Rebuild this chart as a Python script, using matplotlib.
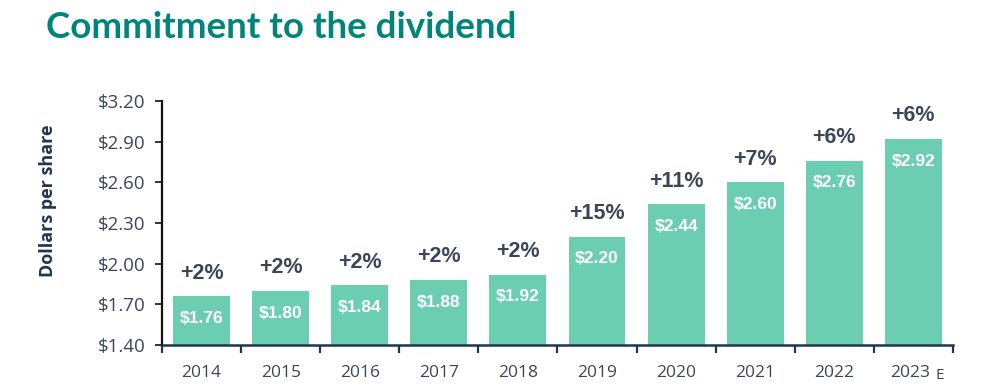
import matplotlib
matplotlib.use("Agg")
import matplotlib.pyplot as plt
import numpy as np

years = ["2014", "2015", "2016", "2017", "2018", "2019", "2020", "2021", "2022", "2023"]
dividends = [1.76, 1.80, 1.84, 1.88, 1.92, 2.20, 2.44, 2.60, 2.76, 2.92]
growth = ["+2%", "+2%", "+2%", "+2%", "+2%", "+15%", "+11%", "+7%", "+6%", "+6%"]
yticks = [1.40, 1.70, 2.00, 2.30, 2.60, 2.90, 3.20]

BAR = "#6CCEB0"
NAVY = "#1F3550"
SLATE = "#3A4658"
TEAL = "#00857A"

fig = plt.figure(figsize=(10.02, 3.92), dpi=100)
ax = fig.add_axes([0.1617, 0.1199, 0.951 - 0.1617, 0.7423 - 0.1199])

x = np.arange(len(years))
ax.bar(x, dividends, width=0.72, color=BAR, zorder=2)
ax.set_ylim(1.40, 3.20)
ax.set_xlim(-0.5, len(years) - 0.5)

for xi, v, g in zip(x, dividends, growth):
    ax.annotate(g, (xi, v), xytext=(0, 9), textcoords="offset points",
                ha="center", va="bottom", fontsize=15.5, fontweight="bold",
                color=SLATE, family="Liberation Sans")
    ax.annotate(f"${v:.2f}", (xi, v), xytext=(0, -16), textcoords="offset points",
                ha="center", va="center", fontsize=12.5, fontweight="bold",
                color="white", family="Liberation Sans")

ax.set_yticks(yticks)
ax.set_yticklabels([f"${t:.2f}" for t in yticks], fontsize=13.5, color=SLATE, family="Open Sans")
ax.set_xticks(x)
ax.set_xticklabels([""] * len(years))

for xi, yr in zip(x, years):
    dx = -2 if yr == years[-1] else 0
    ax.annotate(yr, (xi, 0), xycoords=("data", "axes fraction"), xytext=(dx, -20),
                textcoords="offset points", ha="center", va="center",
                fontsize=12.5, color=SLATE, family="Open Sans")
ax.annotate("E", (x[-1], 0), xycoords=("data", "axes fraction"), xytext=(19, -22),
            textcoords="offset points", ha="center", va="center",
            fontsize=11, color="#444444", family="Open Sans")

ax.tick_params(axis="x", length=0)
ax.set_xticks(np.arange(-0.5, len(years) - 0.4, 1.0), minor=True)
ax.tick_params(axis="x", which="minor", length=6, width=1.6, color=NAVY, direction="out")
ax.tick_params(axis="y", length=5, width=1.2, color="#111111", direction="out", pad=7)

for s in ["top", "right"]:
    ax.spines[s].set_visible(False)
ax.spines["left"].set_color("#111111")
ax.spines["left"].set_linewidth(1.6)
ax.spines["bottom"].set_color(NAVY)
ax.spines["bottom"].set_linewidth(1.8)

ax.set_ylabel("Dollars per share", fontsize=13, fontweight="bold", color=NAVY,
              family="Open Sans", va="center")
ax.yaxis.set_label_coords(-0.144, 0.59)

fig.text(46 / 1002, 1 - 27 / 392, "Commitment to the dividend", fontsize=26.5,
         fontweight="bold", color=TEAL, family="Lato", ha="left", va="center")

fig.savefig("out.png", dpi=100)
